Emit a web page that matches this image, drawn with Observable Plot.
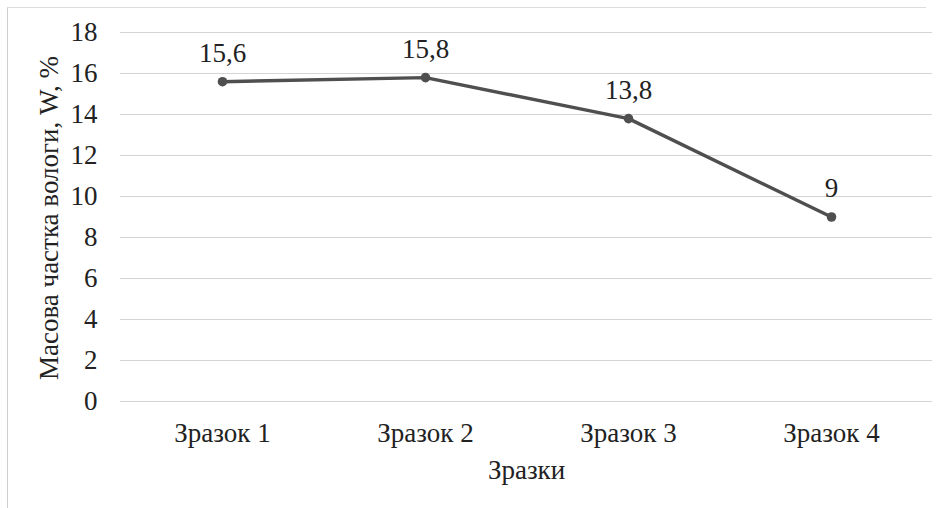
<!DOCTYPE html>
<html>
<head>
<meta charset="utf-8">
<script src="https://cdn.jsdelivr.net/npm/d3@7"></script>
<script src="https://cdn.jsdelivr.net/npm/@observablehq/plot@0.6"></script>
<style>
  html, body { margin: 0; padding: 0; background: #fff; }
  #wrap { position: relative; width: 941px; height: 508px; overflow: hidden; }
  #box { position: absolute; left: 7px; top: 7px; width: 918px; height: 520px;
         border-left: 1px solid #cfcfcf; border-top: 1px solid #dcdcdc; }
  #chart { position: absolute; left: 0; top: 0; }
  #chart svg, #chart svg text { font-family: "Liberation Serif", "Times New Roman", serif !important; }
</style>
</head>
<body>
<div id="wrap"><div id="box"></div><div id="chart"></div></div>
<script>
// Moisture content of the samples
const samples = ["Зразок 1", "Зразок 2", "Зразок 3", "Зразок 4"];
const moisture = [15.6, 15.8, 13.8, 9];
const yTicks = [0, 2, 4, 6, 8, 10, 12, 14, 16, 18];

const data = samples.map((s, i) => ({sample: s, w: moisture[i]}));
const fmt = v => String(v).replace(".", ",");
const font = "Liberation Serif";
const fs = 27;

const chart = Plot.plot({
  width: 941,
  height: 508,
  marginLeft: 120,
  marginRight: 9,
  marginTop: 32,
  marginBottom: 107,
  style: {fontFamily: font, fontSize: fs + "px", color: "#222", background: "transparent"},
  x: {type: "point", domain: samples, padding: 0.5},
  y: {domain: [0, 18]},
  marks: [
    Plot.gridY(yTicks, {stroke: "#d4d4d4", strokeOpacity: 1, strokeWidth: 1.2}),
    Plot.axisY(yTicks, {tickSize: 0, tickPadding: 23, fontSize: fs, fontFamily: font, label: null}),
    Plot.axisX({tickSize: 0, tickPadding: 21, fontSize: fs, fontFamily: font, label: null}),
    Plot.text(["Масова частка вологи, W, %"], {
      frameAnchor: "left", dx: -71, dy: 1, rotate: -90, textAnchor: "middle",
      fontSize: fs, fontFamily: font
    }),
    Plot.text(["Зразки"], {frameAnchor: "bottom", dy: 77, fontSize: fs, fontFamily: font}),
    Plot.line(data, {x: "sample", y: "w", stroke: "#4f4f4f", strokeWidth: 3.4}),
    Plot.dot(data, {x: "sample", y: "w", fill: "#4f4f4f", r: 4.8}),
    Plot.text(data, {x: "sample", y: "w", text: d => fmt(d.w), dy: -28.5,
      fontSize: fs, fontFamily: font, fill: "#222"})
  ]
});
document.getElementById("chart").appendChild(chart);
</script>
</body>
</html>
